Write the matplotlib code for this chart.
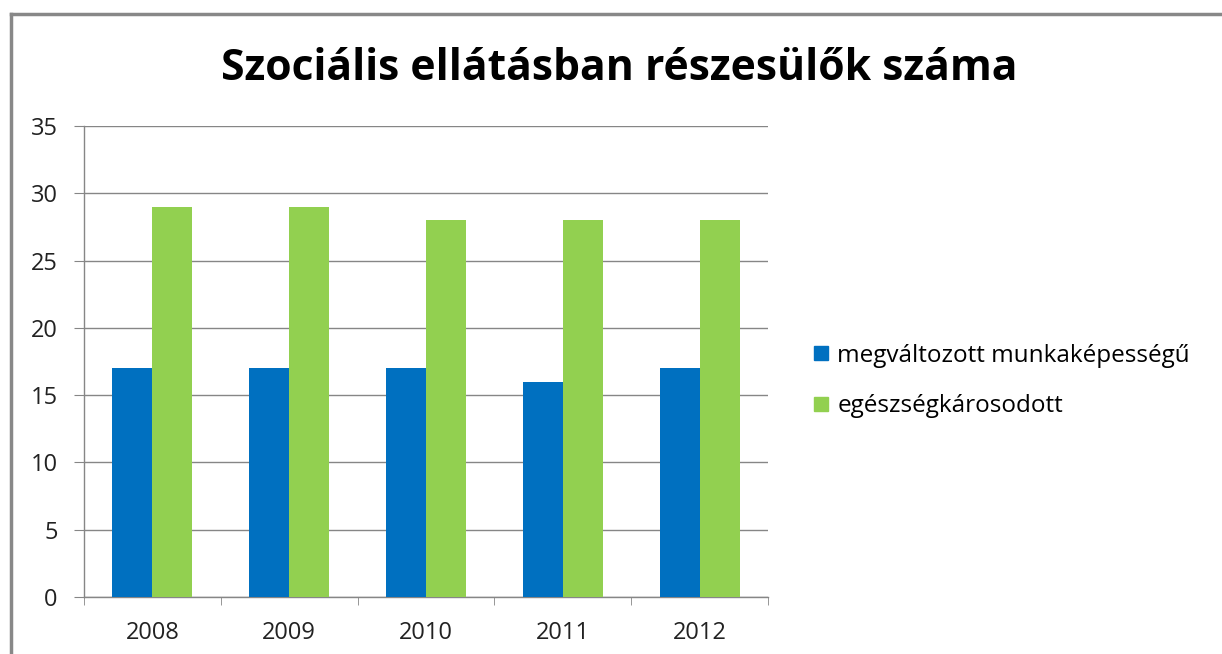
import matplotlib
matplotlib.use("Agg")
import matplotlib.pyplot as plt
import numpy as np
from matplotlib.lines import Line2D

years = ["2008", "2009", "2010", "2011", "2012"]
series_names = ["megváltozott munkaképességű", "egészségkárosodott"]
munkakepesseg = [17, 17, 17, 16, 17]
egeszseg = [29, 29, 28, 28, 28]
title = "Szociális ellátásban részesülők száma"

colors = ["#0070C0", "#92D050"]
plt.rcParams['font.family'] = ['Open Sans', 'DejaVu Sans']

fig = plt.figure(figsize=(12.22, 6.54), dpi=100)
ax = fig.add_axes([84/1222, 57/654, 684/1222, 471/654])

x = np.arange(len(years))
w = 0.293
ax.bar(x - w/2, munkakepesseg, width=w, color=colors[0], label=series_names[0], zorder=3)
ax.bar(x + w/2, egeszseg, width=w, color=colors[1], label=series_names[1], zorder=3)

ax.set_xlim(-0.5, len(years) - 0.5)
ax.set_ylim(0, 35)
ax.set_yticks(np.arange(0, 36, 5))
ax.yaxis.grid(True, color="#868686", linewidth=1, zorder=0)
ax.set_xticks(x)
ax.set_xticklabels(years)
ax.set_xticks(np.arange(-0.5, len(years), 1), minor=True)
ax.tick_params(axis='x', which='major', length=0, pad=17, labelsize=17, labelcolor="#222222")
ax.tick_params(axis='x', which='minor', length=6, color="#868686", direction='out')
ax.tick_params(axis='y', length=7, color="#868686", labelsize=17, labelcolor="#222222", pad=12)
for s in ["top", "right"]:
    ax.spines[s].set_visible(False)
for s in ["left", "bottom"]:
    ax.spines[s].set_color("#868686")
    ax.spines[s].set_linewidth(1)

fig.text(619/1222, 1 - 68/654, title, ha='center', va='center', fontsize=30.7, fontweight='bold', color='black')

handles = [Line2D([0], [0], marker='s', linestyle='none', markersize=10,
                  markerfacecolor=c, markeredgecolor=c) for c in colors]
fig.legend(handles, series_names, loc='center left', bbox_to_anchor=(785/1222, 1 - 381/654),
           frameon=False, fontsize=17.5, handletextpad=0.05, labelspacing=1.1, handlelength=1.2)

# chart border (left and top)
fig.add_artist(Line2D([11/1222, 11/1222], [0, 1 - 14/654], transform=fig.transFigure, color="#888888", linewidth=2.5))
fig.add_artist(Line2D([11/1222, 1], [1 - 14/654, 1 - 14/654], transform=fig.transFigure, color="#888888", linewidth=2.5))

fig.savefig("out.png", dpi=100)
